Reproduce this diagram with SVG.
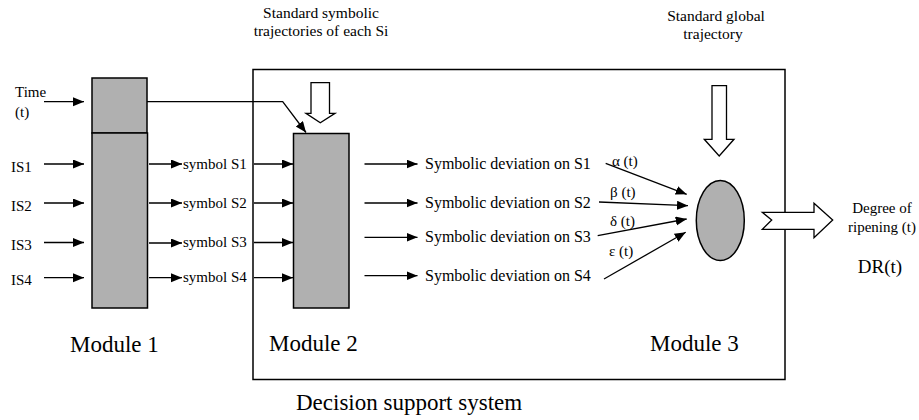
<svg xmlns="http://www.w3.org/2000/svg" width="919" height="420" viewBox="0 0 919 420">
<defs>
<marker id="ah" markerUnits="userSpaceOnUse" markerWidth="12" markerHeight="10" refX="11" refY="4.5" orient="auto">
<path d="M0,0 L11,4.5 L0,9 Z" fill="#000"/>
</marker>
</defs>
<style>
.t{font-family:'Liberation Serif','DejaVu Serif',serif}
.s14{font-size:15.5px}
.s15{font-size:15px}
.s16{font-size:16px}
.s19{font-size:19px}
.s23{font-size:23px}
.box{fill:#b0b0b0;stroke:#000;stroke-width:1.5}
.ln{fill:none;stroke:#000;stroke-width:1.5}
.ar{fill:none;stroke:#000;stroke-width:1.3;marker-end:url(#ah)}
.hol{fill:#fff;stroke:#000;stroke-width:1.3}
</style>
<rect width="919" height="420" fill="#fff"/>

<g id="dss">
<rect x="253" y="69.5" width="532" height="310" class="ln"/>
<text x="296" y="410" class="t s23">Decision support system</text>
</g>

<g id="module1">
<rect x="92" y="78" width="55" height="55" class="box"/>
<rect x="92" y="133" width="55.5" height="175" class="box"/>
<text x="70" y="352" class="t s23">Module 1</text>
</g>

<g id="module2">
<rect x="293.5" y="133.5" width="55.5" height="174.5" class="box"/>
<text x="269" y="351" class="t s23">Module 2</text>
</g>

<g id="module3">
<ellipse cx="720.3" cy="220.5" rx="24" ry="40" class="box"/>
<text x="650" y="351" class="t s23">Module 3</text>
</g>

<g id="labels" class="t">
<text x="15" y="97" class="s15">Time</text>
<text x="15" y="117" class="s15">(t)</text>
<text x="11" y="172" class="s15">IS1</text>
<text x="11" y="211" class="s15">IS2</text>
<text x="11" y="250" class="s15">IS3</text>
<text x="11" y="285" class="s15">IS4</text>
<text x="183" y="168.5" class="s15">symbol S1</text>
<text x="183" y="207.5" class="s15">symbol S2</text>
<text x="183" y="247" class="s15">symbol S3</text>
<text x="183" y="282" class="s15">symbol S4</text>
<text x="321" y="18" class="s14" text-anchor="middle">Standard symbolic</text>
<text x="321" y="36" class="s14" text-anchor="middle">trajectories of each Si</text>
<text x="716" y="21" class="s14" text-anchor="middle">Standard global</text>
<text x="713" y="38.5" class="s14" text-anchor="middle">trajectory</text>
<text x="425" y="168.5" class="s16">Symbolic deviation on S1</text>
<text x="425" y="207.5" class="s16">Symbolic deviation on S2</text>
<text x="425" y="242" class="s16">Symbolic deviation on S3</text>
<text x="425" y="280.5" class="s16">Symbolic deviation on S4</text>
<text x="612" y="166" class="s15">α (t)</text>
<text x="610" y="197" class="s15">β (t)</text>
<text x="610" y="226" class="s15">δ (t)</text>
<text x="609" y="256" class="s15">ε (t)</text>
<text x="882" y="212.5" class="s15" text-anchor="middle">Degree of</text>
<text x="882" y="231.5" class="s15" text-anchor="middle">ripening (t)</text>
<text x="880" y="273" class="s19" text-anchor="middle">DR(t)</text>
</g>

<g id="connectors">
<line x1="44" y1="101.7" x2="84" y2="101.7" class="ar"/>
<polyline points="147,101.7 282.7,101.7 306,132.5" class="ar"/>
<line x1="44" y1="164" x2="84" y2="164" class="ar"/>
<line x1="44" y1="203" x2="84" y2="203" class="ar"/>
<line x1="44" y1="242.5" x2="84" y2="242.5" class="ar"/>
<line x1="44" y1="277.7" x2="84" y2="277.7" class="ar"/>
<line x1="149" y1="164" x2="182" y2="164" class="ar"/>
<line x1="149" y1="203" x2="182" y2="203" class="ar"/>
<line x1="149" y1="243" x2="182" y2="243" class="ar"/>
<line x1="149" y1="277.7" x2="182" y2="277.7" class="ar"/>
<line x1="254" y1="164" x2="293" y2="164" class="ar"/>
<line x1="254" y1="203" x2="293" y2="203" class="ar"/>
<line x1="254" y1="242.5" x2="293" y2="242.5" class="ar"/>
<line x1="254" y1="277.7" x2="293" y2="277.7" class="ar"/>
<line x1="364.5" y1="164" x2="417.5" y2="164" class="ar"/>
<line x1="364.5" y1="203" x2="417.5" y2="203" class="ar"/>
<line x1="364.5" y1="237.3" x2="417.5" y2="237.3" class="ar"/>
<line x1="364.5" y1="275.7" x2="417.5" y2="275.7" class="ar"/>
<line x1="605.7" y1="163.3" x2="686.7" y2="194.3" class="ar"/>
<line x1="599" y1="202" x2="688" y2="205.7" class="ar"/>
<line x1="597.7" y1="235.7" x2="686.7" y2="219" class="ar"/>
<line x1="604" y1="279" x2="685.7" y2="232.3" class="ar"/>
<polygon points="311,82.7 329.5,82.7 329.5,113.3 335,113.3 320.3,122.7 306,113.3 311,113.3" class="hol"/>
<polygon points="712,85.7 726.5,85.7 726.5,139.3 734,139.3 719.2,156 704.3,139.3 712,139.3" class="hol"/>
<polygon points="762.3,212.3 814,212.3 814,203.3 832.7,220 814,237.7 814,229.3 762.3,229.3 771.7,220" class="hol"/>
</g>
</svg>
